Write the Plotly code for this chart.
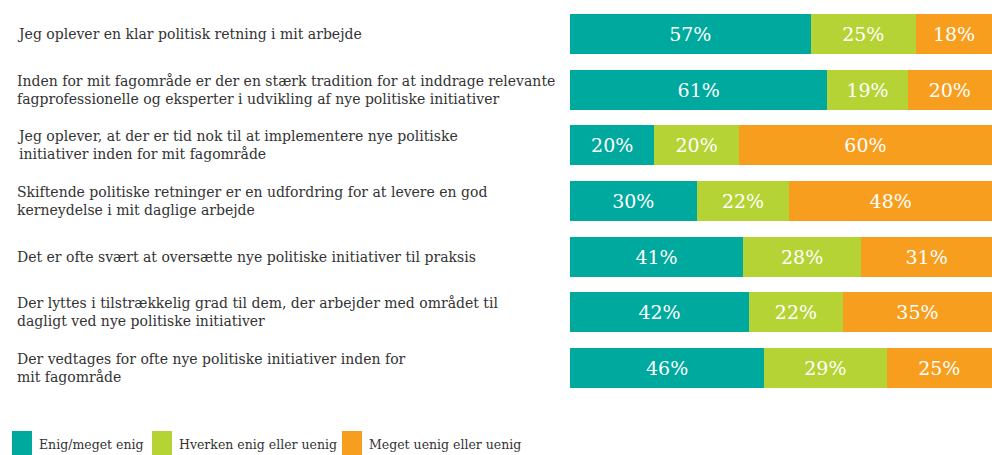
import plotly.graph_objects as go

categories = [
    "Jeg oplever en klar politisk retning i mit arbejde",
    "Inden for mit fagområde er der en stærk tradition for at inddrage relevante<br>fagprofessionelle og eksperter i udvikling af nye politiske initiativer",
    "Jeg oplever, at der er tid nok til at implementere nye politiske<br>initiativer inden for mit fagområde",
    "Skiftende politiske retninger er en udfordring for at levere en god<br>kerneydelse i mit daglige arbejde",
    "Det er ofte svært at oversætte nye politiske initiativer til praksis",
    "Der lyttes i tilstrækkelig grad til dem, der arbejder med området til<br>dagligt ved nye politiske initiativer",
    "Der vedtages for ofte nye politiske initiativer inden for<br>mit fagområde",
]
series_names = ["Enig/meget enig", "Hverken enig eller uenig", "Meget uenig eller uenig"]
enig = [57, 61, 20, 30, 41, 42, 46]
hverken = [25, 19, 20, 22, 28, 22, 29]
uenig = [18, 20, 60, 48, 31, 35, 25]
colors = ["#00A99D", "#B5D334", "#F79E1E"]

FONT = "DejaVu Serif"
W, H = 992, 455
ML, MR, MT, MB = 570, 0, 6, 59

fig = go.Figure()
for name, vals, col in zip(series_names, [enig, hverken, uenig], colors):
    fig.add_trace(go.Bar(
        y=categories, x=vals, name=name, orientation="h",
        marker=dict(color=col, line=dict(width=0)),
        text=[f"{v}%" for v in vals], textposition="inside",
        insidetextanchor="middle",
        textfont=dict(family=FONT, size=19, color="white"),
        showlegend=False, width=0.72,
    ))

plot_w = W - ML - MR
plot_h = H - MT - MB
annotations = []
for c in categories:
    annotations.append(dict(
        x=(15 - ML) / plot_w, xref="paper", y=c, yref="y",
        text=c, showarrow=False, xanchor="left", yanchor="middle",
        align="left", font=dict(family=FONT, size=14, color="#333333"),
    ))

# manual legend
shapes = []
leg_x = [12, 152, 342]
for (lx, name, col) in zip(leg_x, series_names, colors):
    x0 = (lx - ML) / plot_w
    x1 = (lx + 20 - ML) / plot_w
    y0 = -(431 - (H - MB)) / plot_h
    y1 = -(457 - (H - MB)) / plot_h
    shapes.append(dict(type="rect", xref="paper", yref="paper",
                       x0=x0, x1=x1, y0=y1, y1=y0,
                       fillcolor=col, line=dict(width=0)))
    annotations.append(dict(
        x=(lx + 25 - ML) / plot_w, xref="paper",
        y=-(444 - (H - MB)) / plot_h, yref="paper",
        text=name, showarrow=False, xanchor="left", yanchor="middle",
        font=dict(family=FONT, size=12.5, color="#333333"),
    ))

fig.update_layout(
    width=W, height=H,
    margin=dict(l=ML, r=MR, t=MT, b=MB, pad=0),
    barmode="stack", barnorm="percent",
    plot_bgcolor="white", paper_bgcolor="white",
    xaxis=dict(visible=False, range=[0, 100], fixedrange=True),
    yaxis=dict(visible=False, autorange="reversed", fixedrange=True),
    annotations=annotations, shapes=shapes,
    uniformtext=dict(minsize=10, mode="show"),
)
fig.write_html(
    "out.html",
    config={"displayModeBar": False, "responsive": False},
    post_script="document.body.style.margin='0';document.body.style.overflow='hidden';",
)
